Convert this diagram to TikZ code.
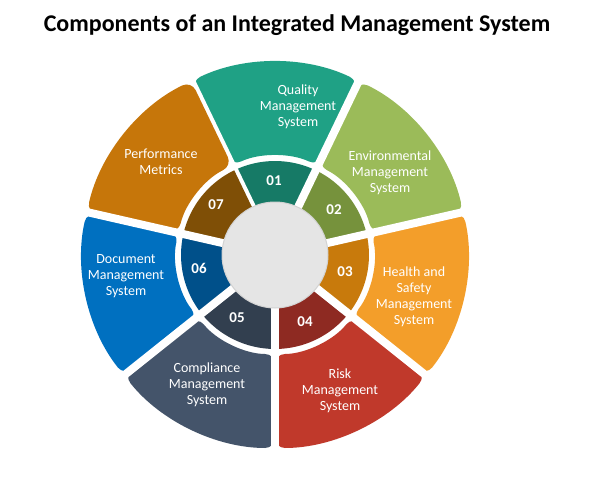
\documentclass[tikz,border=0pt]{standalone}
\usepackage{fontspec}
\setmainfont{Carlito}
\usetikzlibrary{calc}
\begin{document}
\begin{tikzpicture}[x=1pt,y=-1pt]
\useasboundingbox (0,0) rectangle (600,479);
\fill[white] (0,0) rectangle (600,479);
\definecolor{cOa}{RGB}{31,161,133}\definecolor{cIa}{RGB}{22,122,102}
\definecolor{cOb}{RGB}{155,187,89}\definecolor{cIb}{RGB}{118,146,60}
\definecolor{cOc}{RGB}{243,158,42}\definecolor{cIc}{RGB}{200,122,12}
\definecolor{cOd}{RGB}{192,57,43}\definecolor{cId}{RGB}{142,42,34}
\definecolor{cOe}{RGB}{68,84,106}\definecolor{cIe}{RGB}{50,63,79}
\definecolor{cOf}{RGB}{0,112,192}\definecolor{cIf}{RGB}{0,80,138}
\definecolor{cOg}{RGB}{198,118,10}\definecolor{cIg}{RGB}{127,79,6}
\tikzset{lbl/.style={text=white,align=center,font=\fontsize{14}{16}\selectfont},
num/.style={text=white,font=\bfseries\fontsize{15}{17}\selectfont}}
\coordinate (c) at (275,255);
\node[font=\bfseries\fontsize{24}{28}\selectfont] (title) at (297,25) {Components of an Integrated Management System};
\foreach \k/\o/\i in {0/cOa/cIa,1/cOb/cIb,2/cOc/cIc,3/cOd/cId,4/cOe/cIe,5/cOf/cIf,6/cOg/cIg}{
  \pgfmathsetmacro\a{-90+\k*51.4286-25.714}
  \pgfmathsetmacro\b{-90+\k*51.4286+25.714}
  \fill[fill=\o,rounded corners=10pt] ($(c)+(\a:99)$) arc[start angle=\a,end angle=\b,radius=99] -- ($(c)+(\b:193)$) arc[start angle=\b,end angle=\a,radius=193] -- cycle;
  \fill[fill=\i] ($(c)+(\a:50)$) arc[start angle=\a,end angle=\b,radius=50] -- ($(c)+(\b:94)$) arc[start angle=\b,end angle=\a,radius=94] -- cycle;
  \draw[white,line width=8pt] (c) -- ($(c)+(\a:205)$);
}
\fill[gray!20,draw=gray!35,line width=1pt] (c) circle[radius=53];
\node[lbl] (q) at (298,107) {Quality\\Management\\System};
\node[lbl] (e) at (390,173) {Environmental\\Management\\System};
\node[lbl] (h) at (414,297) {Health and\\Safety\\Management\\System};
\node[lbl] (r) at (340,391) {Risk\\Management\\System};
\node[lbl] (co) at (207,385) {Compliance\\Management\\System};
\node[lbl] (d) at (126,276) {Document\\Management\\System};
\node[lbl] (p) at (161,162) {Performance\\Metrics};
\node[num] (n1) at (274,181) {01};
\node[num] (n2) at (334,210) {02};
\node[num] (n3) at (345,272) {03};
\node[num] (n4) at (305,322) {04};
\node[num] (n5) at (237,318) {05};
\node[num] (n6) at (199,268) {06};
\node[num] (n7) at (216,205) {07};
\end{tikzpicture}
\end{document}
